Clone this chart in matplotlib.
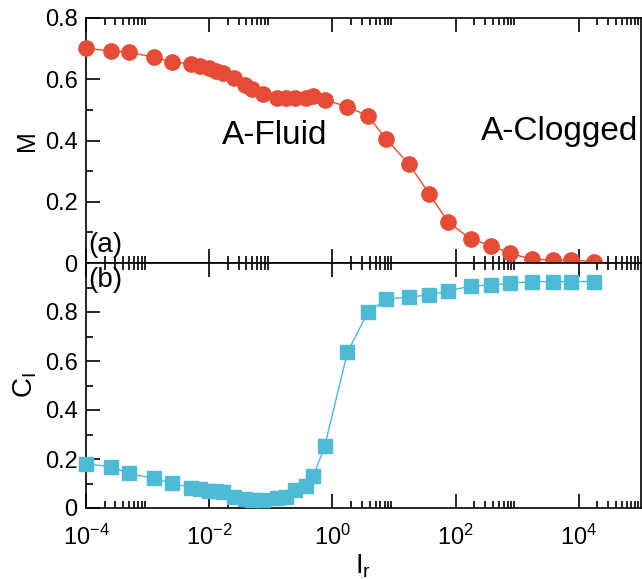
import numpy as np
import matplotlib
matplotlib.use('Agg')
import matplotlib.pyplot as plt
from matplotlib.ticker import FixedLocator, NullFormatter, LogFormatterMathtext

plt.rcParams['font.family'] = ['Liberation Sans', 'DejaVu Sans']
plt.rcParams['mathtext.fontset'] = 'custom'
plt.rcParams['mathtext.rm'] = 'Liberation Sans'
plt.rcParams['mathtext.it'] = 'Liberation Sans'

# rate ratio I_r
ir = [1e-4, 2.5e-4, 5e-4, 1.25e-3, 2.5e-3, 5e-3, 7e-3, 1e-2, 1.3e-2, 1.7e-2,
      2.5e-2, 3.75e-2, 5e-2, 7.5e-2, 0.125, 0.175, 0.25, 0.37, 0.49, 0.75,
      1.75, 3.75, 7.5, 17.5, 37.5, 75, 175, 375, 750, 1750, 3750, 7500, 17500]

# panel (a): mobility
m_vals = [0.701, 0.693, 0.688, 0.672, 0.657, 0.650, 0.643, 0.636, 0.628, 0.619,
          0.603, 0.581, 0.567, 0.551, 0.540, 0.538, 0.539, 0.540, 0.546, 0.533,
          0.510, 0.481, 0.404, 0.323, 0.225, 0.135, 0.078, 0.057, 0.032, 0.012,
          0.010, 0.010, 0.004]

# panel (b): clogging fraction
c_vals = [0.180, 0.169, 0.141, 0.121, 0.101, 0.083, 0.076, 0.071, 0.069, 0.067,
          0.046, 0.035, 0.033, 0.033, 0.040, 0.044, 0.073, 0.090, 0.131, 0.253,
          0.635, 0.799, 0.852, 0.862, 0.869, 0.886, 0.906, 0.910, 0.917, 0.924,
          0.924, 0.924, 0.924]

red = '#e64b35'
blue = '#4dbbd5'
fs = 17

W, H = 642, 579
fig = plt.figure(figsize=(W / 100, H / 100), dpi=100)
left, right = 86 / W, 640.5 / W
ax1 = fig.add_axes([left, 1 - 263 / H, right - left, 245 / H])
ax2 = fig.add_axes([left, 1 - 508 / H, right - left, 245 / H])

# minor ticks only in the even decades
minors = [k * 10.0 ** d for d in range(-4, 5, 2) for k in range(2, 10)]

for ax in (ax1, ax2):
    ax.set_xscale('log')
    ax.set_xlim(1e-4, 1e5)
    ax.xaxis.set_major_locator(FixedLocator([1e-4, 1e-2, 1e0, 1e2, 1e4]))
    ax.xaxis.set_minor_locator(FixedLocator(minors))
    ax.xaxis.set_minor_formatter(NullFormatter())
    ax.tick_params(which='both', direction='in', top=True, right=False,
                   labelsize=fs, width=1.2)
    ax.tick_params(axis='y', pad=6)
    ax.tick_params(axis='x', pad=12)
    ax.tick_params(which='major', length=10)
    ax.tick_params(which='minor', length=5)
    for sp in ax.spines.values():
        sp.set_linewidth(1.2)

ax1.plot(ir, m_vals, '-o', color=red, ms=11, lw=1.0, clip_on=False, zorder=5)
ax1.set_ylim(0, 0.8)
ax1.set_yticks([0, 0.2, 0.4, 0.6, 0.8])
ax1.set_yticklabels(['0', '0.2', '0.4', '0.6', '0.8'])
ax1.set_yticks([0.1, 0.3, 0.5, 0.7], minor=True)
ax1.tick_params(axis='x', labelbottom=False)
ax1.set_ylabel('M', fontsize=18, labelpad=4)
ax1.text(0.004, 0.075, '(a)', transform=ax1.transAxes, fontsize=20,
         ha='left', va='center')
ax1.text(0.116, 0.417, 'A-Fluid', fontsize=24, ha='center', va='center')
ax1.text(4850, 0.43, 'A-Clogged', fontsize=24, ha='center', va='center')

ax2.plot(ir, c_vals, '-s', color=blue, ms=9.5, lw=1.0, clip_on=False, zorder=4)
ax2.set_ylim(0, 1.0)
ax2.set_yticks([0, 0.2, 0.4, 0.6, 0.8])
ax2.set_yticklabels(['0', '0.2', '0.4', '0.6', '0.8'])
ax2.set_yticks([0.1, 0.3, 0.5, 0.7, 0.9], minor=True)
ax2.xaxis.set_major_formatter(LogFormatterMathtext())
ax2.set_ylabel(r'C$_\mathregular{I}$', fontsize=20, labelpad=4)
ax2.set_xlabel(r'I$_\mathregular{r}$', fontsize=20, labelpad=2)
ax2.text(0.004, 0.93, '(b)', transform=ax2.transAxes, fontsize=20,
         ha='left', va='center')

fig.savefig('out.png', dpi=100)
